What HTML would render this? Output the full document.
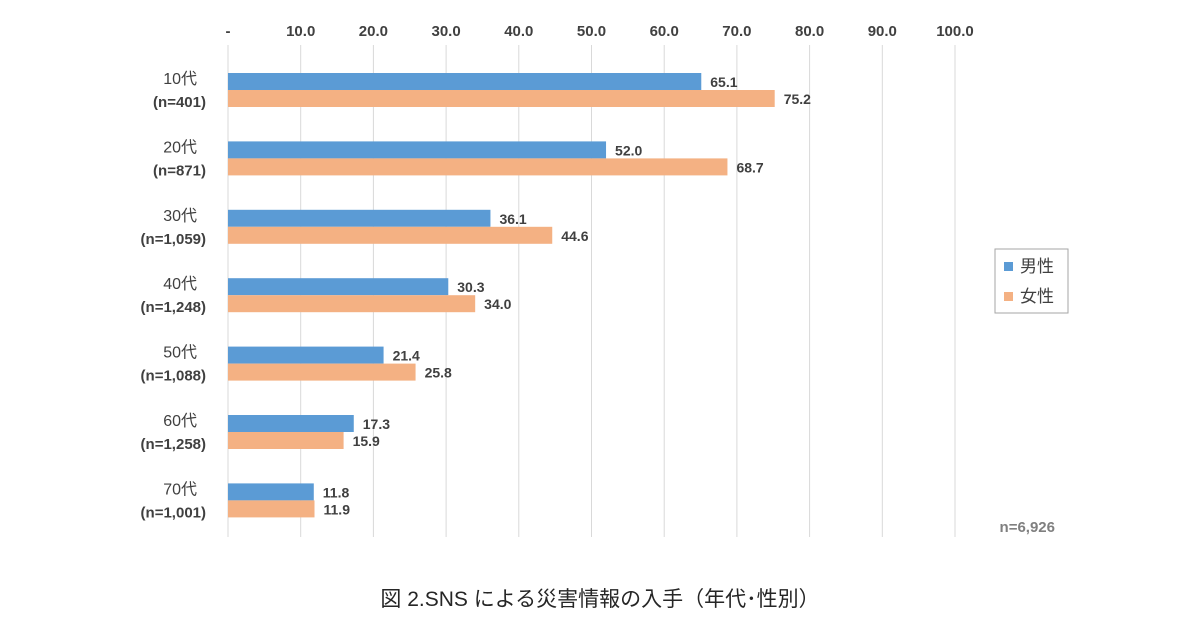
<!DOCTYPE html>
<html><head><meta charset="utf-8"><style>
body{margin:0;background:#fff;}
svg{display:block;font-family:"Liberation Sans","Noto Sans CJK JP",sans-serif;}
</style></head><body>
<svg id="chart" width="1200" height="630" viewBox="0 0 1200 630">
<g id="grid"></g><g id="bars"></g><g id="labels"></g>
<g>
<rect x="995" y="249" width="73" height="64" fill="#fff" stroke="#a6a6a6" stroke-width="1"/>
<rect x="1004" y="262" width="9" height="9" fill="#5b9bd5"/>
<text x="1020" y="272" font-size="17" fill="#404040">男性</text>
<rect x="1004" y="292" width="9" height="9" fill="#f4b183"/>
<text x="1020" y="302" font-size="17" fill="#404040">女性</text>
</g>
<text x="1055" y="532" text-anchor="end" font-size="15" font-weight="bold" fill="#7f7f7f">n=6,926</text>
<text x="600" y="606" text-anchor="middle" font-size="21" fill="#262626">図 2.SNS による災害情報の入手（年代･性別）</text>
</svg>
<script>
const categories=["10代","20代","30代","40代","50代","60代","70代"];
const sampleSizes=["(n=401)","(n=871)","(n=1,059)","(n=1,248)","(n=1,088)","(n=1,258)","(n=1,001)"];
const maleValues=[65.1,52.0,36.1,30.3,21.4,17.3,11.8];
const femaleValues=[75.2,68.7,44.6,34.0,25.8,15.9,11.9];
const tickValues=[0,10,20,30,40,50,60,70,80,90,100];
const tickLabels=["-","10.0","20.0","30.0","40.0","50.0","60.0","70.0","80.0","90.0","100.0"];
const NS="http://www.w3.org/2000/svg";
const x0=228,xs=7.27,y0=73,step=68.4,bh=17;
const X=v=>x0+v*xs;
const Y=i=>y0+i*step;
function mk(tag,attrs,parent,txt){const e=document.createElementNS(NS,tag);for(const k in attrs)e.setAttribute(k,attrs[k]);if(txt!==undefined)e.textContent=txt;parent.appendChild(e);return e;}
const grid=document.getElementById('grid'),bars=document.getElementById('bars'),labels=document.getElementById('labels');
tickValues.forEach((v,i)=>{
  const l=mk('line',{x1:X(v),x2:X(v),y1:45,y2:537,stroke:'#d9d9d9','stroke-width':1},grid);
  
  
  const t=mk('text',{x:X(v),y:36,'text-anchor':'middle','font-size':15,'font-weight':'bold',fill:'#404040'},grid,tickLabels[i]);
  
  
});
categories.forEach((c,i)=>{
  const y=Y(i);
  const b1=mk('rect',{x:X(0),y:y,width:X(maleValues[i])-X(0),height:bh,fill:'#5b9bd5'},bars);
  
  
  const b2=mk('rect',{x:X(0),y:y+bh,width:X(femaleValues[i])-X(0),height:bh,fill:'#f4b183'},bars);
  
  
  const v1=mk('text',{x:X(maleValues[i])+9,y:y+14,'font-size':14,'font-weight':'bold',fill:'#404040'},labels,maleValues[i].toFixed(1));
  
  
  const v2=mk('text',{x:X(femaleValues[i])+9,y:y+bh+14,'font-size':14,'font-weight':'bold',fill:'#404040'},labels,femaleValues[i].toFixed(1));
  
  
  const c1=mk('text',{x:197,y:y+11,'text-anchor':'end','font-size':16,fill:'#404040'},labels,c);
  
  
  const c2=mk('text',{x:206,y:y+34,'text-anchor':'end','font-size':15,'font-weight':'bold',fill:'#404040'},labels,sampleSizes[i]);
  
  
});
</script>
</body></html>
